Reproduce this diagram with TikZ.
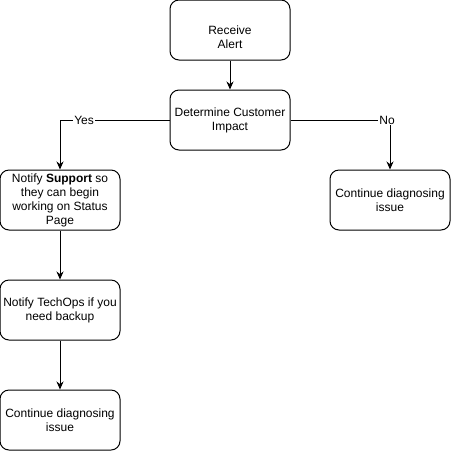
\documentclass[tikz,border=0pt]{standalone}
\usepackage{fontspec}
\setmainfont{Liberation Sans}
\usetikzlibrary{arrows.meta}
\begin{document}
\begin{tikzpicture}[
      x=1pt, y=-1pt,
      flowbox/.style={draw, rounded corners=9pt, minimum width=120pt, minimum height=60pt,
                      align=center, font=\fontsize{12}{14}\selectfont, line width=1pt,
                      inner sep=2pt},
      flow/.style={draw, line width=1pt, -{Stealth[length=8pt,width=7pt]}},
      tag/.style={fill=white, inner sep=1pt, font=\fontsize{12}{14}\selectfont}
    ]
      \useasboundingbox (0,0) rectangle (452,451);
      \node[flowbox] (alert) at (230,30) {\rule{0pt}{10pt}\\Receive\\Alert};
      \node[flowbox] (impact) at (230,120) {Determine Customer\\Impact};
      \node[flowbox] (support) at (60,200) {Notify \textbf{Support} so\\they can begin\\working on Status\\Page};
      \node[flowbox] (diagright) at (390,200) {Continue diagnosing\\issue};
      \node[flowbox] (techops) at (60,310) {Notify TechOps if you\\need backup};
      \node[flowbox] (diagleft) at (60,420) {Continue diagnosing\\issue};
      \draw[flow] (alert) -- (impact);
      \draw[flow] (impact.west) -| node[tag, pos=0.39] {Yes} (support.north);
      \draw[flow] (impact.east) -| node[tag, pos=0.485] {No} (diagright.north);
      \draw[flow] (support) -- (techops);
      \draw[flow] (techops) -- (diagleft);
    \end{tikzpicture}
\end{document}
